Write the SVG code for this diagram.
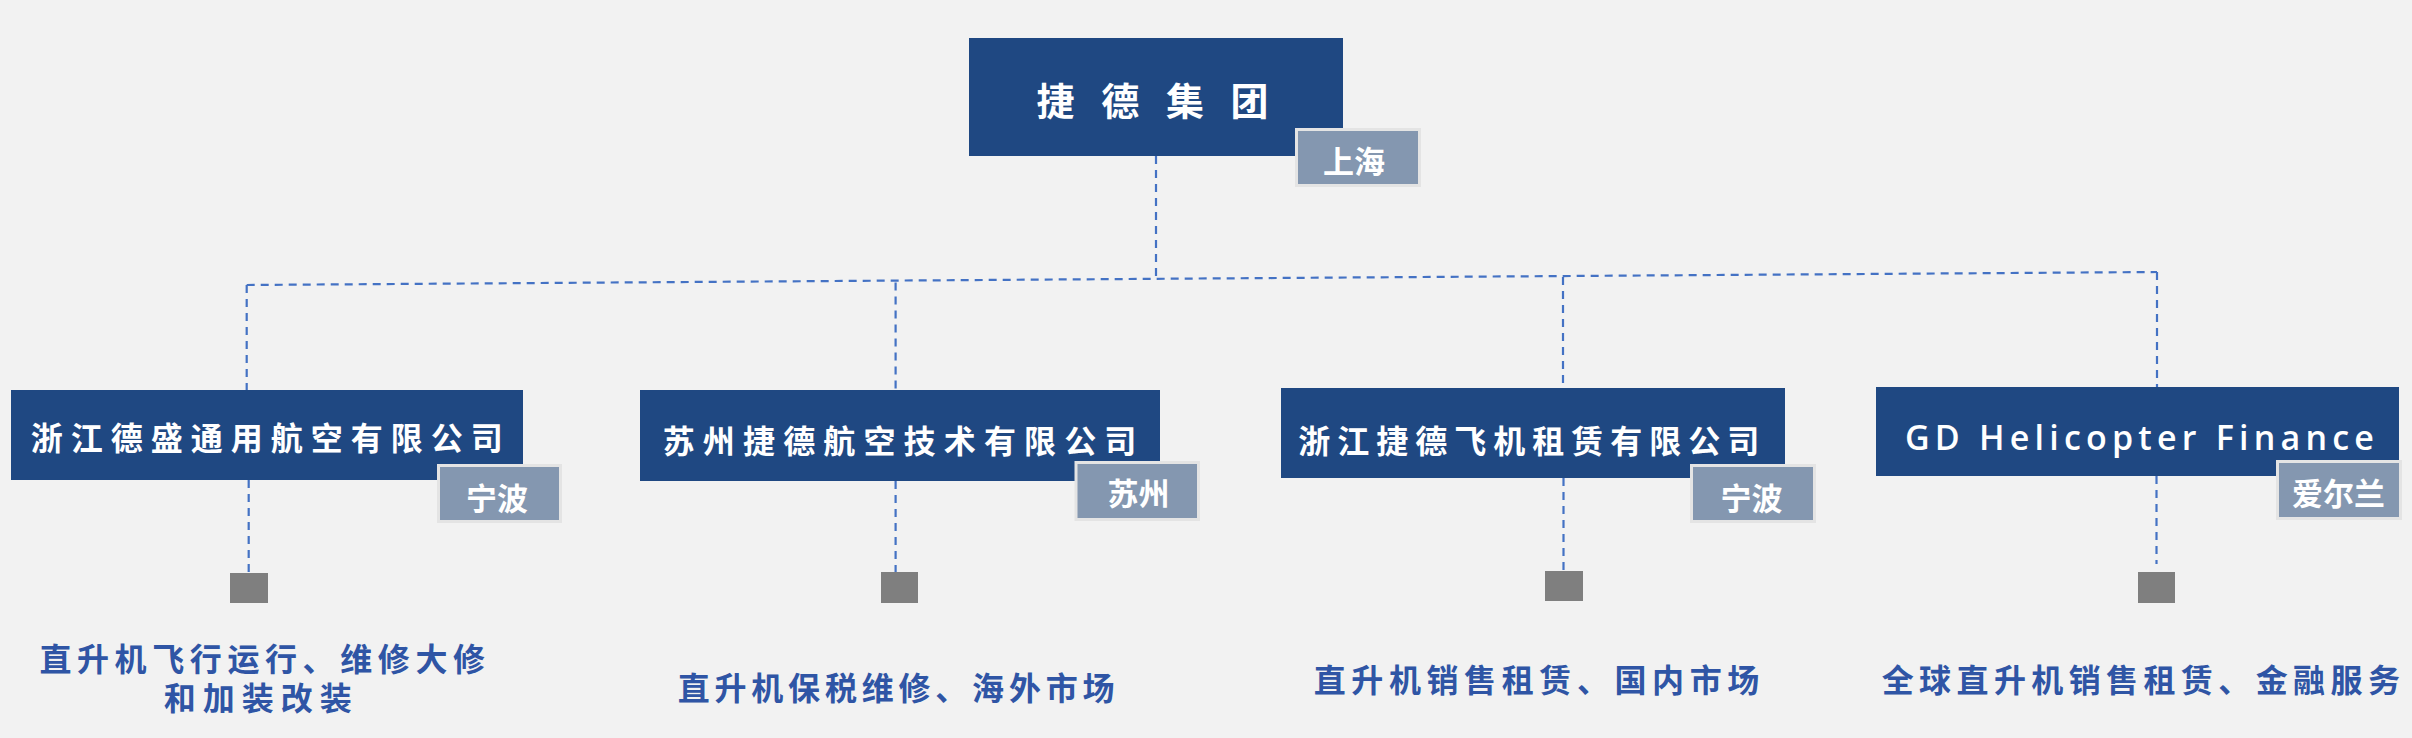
<svg xmlns="http://www.w3.org/2000/svg" width="2412" height="738" viewBox="0 0 2412 738">
  <style>
    .box { fill: #1F4882; }
    .tag { fill: #8497B0; stroke: #E4E4E4; stroke-width: 3; }
    .sq { fill: #7F7F7F; }
    .cn { fill: none; stroke: #4472C4; stroke-width: 2.2; stroke-dasharray: 8 6; }
    .t { font-family: "Noto Sans CJK SC", "Noto Sans", sans-serif; font-weight: bold; dominant-baseline: central; }
    .w { fill: #FFFFFF; }
    .name { font-size: 32px; }
    .loc { font-size: 31px; text-anchor: middle; }
    .desc { fill: #2F55A5; font-size: 32px; }
    .en { font-family: "Open Sans", "Noto Sans", sans-serif; font-weight: 600; font-size: 34px; fill: #FFFFFF; }
  </style>
  <rect width="2412" height="738" fill="#F2F2F2"/>

  <g id="connectors">
    <line class="cn" x1="1156" y1="156" x2="1156" y2="279"/>
    <line class="cn" x1="246.7" y1="285" x2="2157" y2="272"/>
    <line class="cn" x1="246.7" y1="285" x2="246.7" y2="390"/>
    <line class="cn" x1="895.6" y1="282.5" x2="895.6" y2="390"/>
    <line class="cn" x1="1563" y1="277" x2="1563" y2="388"/>
    <line class="cn" x1="2157" y1="272" x2="2157" y2="387"/>
    <line class="cn" x1="248.7" y1="480" x2="248.7" y2="572"/>
    <line class="cn" x1="895.6" y1="481" x2="895.6" y2="572"/>
    <line class="cn" x1="1563.5" y1="478" x2="1563.5" y2="571"/>
    <line class="cn" x1="2156.5" y1="476" x2="2156.5" y2="564"/>
  </g>

  <g id="node-group">
    <rect class="box" x="969" y="38" width="374" height="118"/>
    <text class="t w" x="1036.5" y="98" font-size="38" letter-spacing="26.7">捷德集团</text>
    <rect class="tag" x="1296.5" y="129.5" width="123" height="56"/>
    <text class="t w loc" x="1354" y="159">上海</text>
  </g>

  <g id="node-desheng">
    <rect class="box" x="11" y="390" width="512" height="90"/>
    <text class="t w name" x="30.7" y="436" letter-spacing="8">浙江德盛通用航空有限公司</text>
    <rect class="tag" x="438.5" y="465.5" width="122" height="56"/>
    <text class="t w loc" x="497" y="496.5">宁波</text>
  </g>

  <g id="node-suzhou">
    <rect class="box" x="640" y="390" width="520" height="91"/>
    <text class="t w name" x="662.7" y="438.5" letter-spacing="8.15">苏州捷德航空技术有限公司</text>
    <rect class="tag" x="1076" y="462.5" width="122.5" height="57"/>
    <text class="t w loc" x="1138.5" y="491">苏州</text>
  </g>

  <g id="node-leasing">
    <rect class="box" x="1281" y="388" width="504" height="90"/>
    <text class="t w name" x="1298.2" y="438.5" letter-spacing="7">浙江捷德飞机租赁有限公司</text>
    <rect class="tag" x="1691.5" y="465.5" width="123" height="56"/>
    <text class="t w loc" x="1751.5" y="496">宁波</text>
  </g>

  <g id="node-gd">
    <rect class="box" x="1876" y="387" width="523" height="89"/>
    <text class="en" x="1905" y="450" letter-spacing="5.2">GD Helicopter Finance</text>
    <rect class="tag" x="2277.5" y="461.5" width="123" height="57"/>
    <text class="t w loc" x="2338.5" y="491">爱尔兰</text>
  </g>

  <g id="desc-1">
    <rect class="sq" x="230" y="573" width="38" height="30"/>
    <text class="t desc" x="39.4" y="656.7" letter-spacing="5.6">直升机飞行运行、维修大修</text>
    <text class="t desc" x="163.7" y="695.5" letter-spacing="7">和加装改装</text>
  </g>

  <g id="desc-2">
    <rect class="sq" x="881" y="572" width="37" height="31"/>
    <text class="t desc" x="677.7" y="685.7" letter-spacing="4.8">直升机保税维修、海外市场</text>
  </g>

  <g id="desc-3">
    <rect class="sq" x="1545" y="571" width="38" height="30"/>
    <text class="t desc" x="1313.7" y="677.7" letter-spacing="5.6">直升机销售租赁、国内市场</text>
  </g>

  <g id="desc-4">
    <rect class="sq" x="2138" y="572" width="37" height="31"/>
    <text class="t desc" x="1881.7" y="677.7" letter-spacing="5.4">全球直升机销售租赁、金融服务</text>
  </g>
</svg>
